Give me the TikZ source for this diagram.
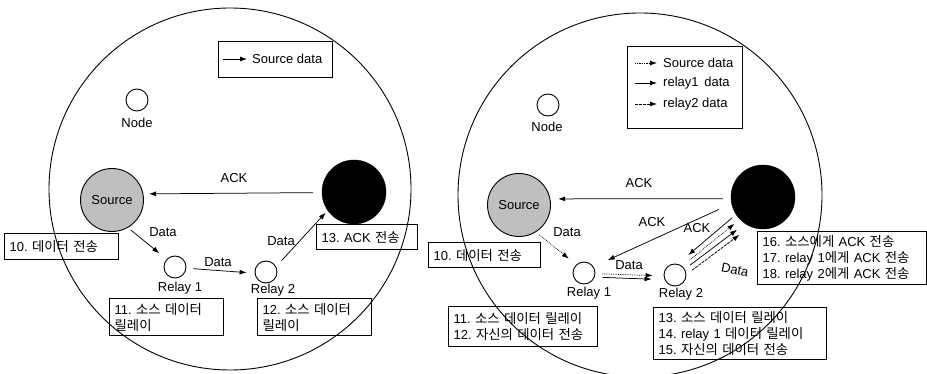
\documentclass[tikz,border=0pt]{standalone}
\usepackage{fontspec}
\setmainfont{Liberation Sans}
\newfontfamily\kr{Noto Sans CJK KR}[Scale=1.03]
\newcommand\ko[1]{{\kr #1}}
\usetikzlibrary{arrows.meta}
\frenchspacing
\begin{document}
\begin{tikzpicture}[x=1pt,y=-1pt,
  every node/.style={font=\fontsize{13}{16}\selectfont},
  range/.style={draw, circle, line width=0.9pt, minimum size=#1, inner sep=0pt},
  sm/.style={draw, circle, line width=0.9pt, minimum size=22pt, inner sep=0pt},
  src/.style={draw, circle, line width=0.9pt, fill=gray!50, minimum size=63pt, inner sep=0pt},
  blk/.style={draw, circle, fill=black, minimum size=64pt, inner sep=0pt},
  lbl/.style={inner sep=0pt},
  box/.style={draw, line width=1.3pt, anchor=north west, align=left, inner xsep=5pt, inner ysep=0pt},
  arr/.style={-{Latex[length=7pt,width=5pt]}, line width=0.75pt},
  srcd/.style={densely dotted},
  r2d/.style={dash pattern=on 3pt off 1pt}]
\useasboundingbox (0,0) rectangle (927,374);

% ---------- left panel ----------
\node[range=362pt] (rangeL) at (230,189) {};
\node[box, minimum width=114pt, minimum height=36pt] (legL) at (218,41) {};
\coordinate (lgLa) at (223,59);
\coordinate (lgLb) at (247,59);
\draw[arr] (lgLa) -- (lgLb);
\node[lbl, anchor=west] (lgLt) at (252,59) {Source data};

\node[sm] (n1) at (137,100) {};
\node[lbl] (n1l) at (137,123) {Node};
\node[src] (s1) at (112,200) {Source};
\node[blk] (b1) at (354,192) {};
\node[sm] (ra1) at (175,267) {};
\node[lbl] (ra1l) at (180,288) {Relay 1};
\node[sm] (rb1) at (266,272) {};
\node[lbl] (rb1l) at (273,290) {Relay 2};

\draw[arr, shorten <=9pt, shorten >=5.7pt] (b1.181) -- (s1.11);
\node[lbl] (ack1) at (234,178) {ACK};
\draw[arr, shorten <=3.5pt, shorten >=9.5pt] (s1.-60) -- (ra1.137);
\node[lbl] (d1) at (163,232) {Data};
\draw[arr, shorten <=7pt, shorten >=8pt] (ra1.-6) -- (rb1.186);
\node[lbl] (d2) at (218,262) {Data};
\draw[arr, shorten <=8pt, shorten >=3pt] (rb1.28) -- (b1.215);
\node[lbl] (d3) at (281,241) {Data};

\node[box, minimum width=114pt, minimum height=26pt, text width=104pt] (t10) at (4,233) {10. \ko{데이터 전송}};
\node[box, minimum width=114pt, minimum height=37pt, text width=104pt] (t11) at (109,298) {11. \ko{소스 데이터}\\\ko{릴레이}};
\node[box, minimum width=114pt, minimum height=37pt, text width=104pt] (t12) at (257,298) {12. \ko{소스 데이터}\\\ko{릴레이}};
\node[box, minimum width=101pt, minimum height=25pt, text width=91pt] (t13) at (316,224) {13. ACK \ko{전송}};

% ---------- right panel ----------
\node[range=364pt] (rangeR) at (640,195) {};
\node[box, minimum width=115pt, minimum height=82pt] (legR) at (627,46) {};
\coordinate (lg1a) at (635,63); \coordinate (lg1b) at (657,63);
\coordinate (lg2a) at (635,83); \coordinate (lg2b) at (657,83);
\coordinate (lg3a) at (635,104); \coordinate (lg3b) at (657,104);
\draw[arr, srcd] (lg1a) -- (lg1b);
\draw[arr] (lg2a) -- (lg2b);
\draw[arr, r2d] (lg3a) -- (lg3b);
\node[lbl, anchor=west] (lg1t) at (663,63) {Source data};
\node[lbl, anchor=west] (lg2t) at (663,83) {relay1\,\ data};
\node[lbl, anchor=west] (lg3t) at (663,104) {relay2 data};

\node[sm] (n2) at (548,105) {};
\node[lbl] (n2l) at (547,127) {Node};
\node[src] (s2) at (519,205) {Source};
\node[blk] (b2) at (763,197) {};
\node[sm] (ra2) at (584,273) {};
\node[lbl] (ra2l) at (589,293) {Relay 1};
\node[sm] (rb2) at (675,275) {};
\node[lbl] (rb2l) at (681,294) {Relay 2};

\draw[arr, shorten <=8pt, shorten >=7.8pt] (b2.183) -- (s2.11.6);
\node[lbl] (ack2) at (639,183) {ACK};
\draw[arr, shorten <=14pt, shorten >=15.6pt] (b2.192.5) -- (ra2.34);
\node[lbl] (ack3) at (652,222) {ACK};
\draw[arr, shorten <=5pt, shorten >=13.7pt] (b2.213) -- (rb2.76);
\node[lbl] (ack4) at (697,228) {ACK};

\draw[arr, srcd, shorten <=4.4pt, shorten >=9.5pt] (s2.-58.5) -- (ra2.133);
\node[lbl] (d4) at (567,232) {Data};
\draw[arr, srcd, shorten <=7pt, shorten >=11pt] (ra2.-3) -- (rb2.185);
\draw[arr, shorten <=8.3pt, shorten >=13pt] (ra2.-21) -- (rb2.204);
\node[lbl] (d5) at (629,265) {Data};
\draw[arr, srcd, shorten <=9.6pt, shorten >=7pt] (rb2.51) -- (b2.224);
\draw[arr, shorten <=6.5pt, shorten >=10pt] (rb2.31) -- (b2.236.7);
\draw[arr, r2d, shorten <=7pt, shorten >=13.7pt] (rb2.3) -- (b2.247);
\node[lbl, rotate=-12] (d6) at (735,270) {Data};

\node[box, minimum width=112pt, minimum height=25pt, text width=102pt] (u10) at (428,242) {10. \ko{데이터 전송}};
\node[box, minimum width=149pt, minimum height=40pt, text width=139pt] (u11) at (448,306) {11. \ko{소스 데이터 릴레이}\\12. \ko{자신의 데이터 전송}};
\node[box, minimum width=173pt, minimum height=52pt, text width=163pt] (u13) at (653,307) {13. \ko{소스 데이터 릴레이}\\14. relay 1 \ko{데이터 릴레이}\\15. \ko{자신의 데이터 전송}};
\node[box, minimum width=169pt, minimum height=53pt, text width=159pt] (u16) at (757,231) {16. \ko{소스에게} ACK \ko{전송}\\17. relay 1\ko{에게} ACK \ko{전송}\\18. relay 2\ko{에게} ACK \ko{전송}};
\end{tikzpicture}
\end{document}
